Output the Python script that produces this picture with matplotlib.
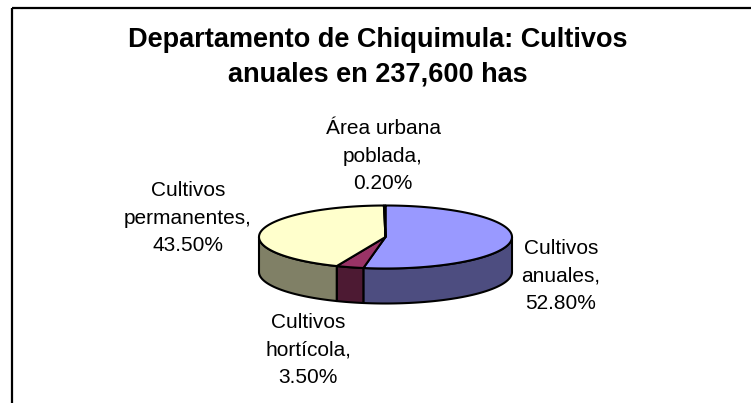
import numpy as np
import matplotlib
matplotlib.use("Agg")
import matplotlib.pyplot as plt
from matplotlib.patches import Polygon, Rectangle

# datos del grafico
categorias = ["Cultivos anuales", "Cultivos hortícola", "Cultivos permanentes", "Área urbana poblada"]
etiquetas = ["Cultivos\nanuales,", "Cultivos\nhortícola,", "Cultivos\npermanentes,", "Área urbana\npoblada,"]
porcentajes = [52.8, 3.5, 43.5, 0.2]
colores_top = ["#9999FF", "#993366", "#FFFFCC", "#CCFFFF"]
colores_lado = ["#4D4D80", "#4D1A33", "#808066", "#668080"]
titulo = "Departamento de Chiquimula: Cultivos\nanuales en 237,600 has"

# geometria (pixeles de la figura)
W, H = 751, 403
cx, cy = 385.5, 237.0
a, b = 126.5, 31.5
prof = 35.0
pos_etiquetas = [(561, 276), (308, 350), (188, 218), (383, 156)]

plt.rcParams['font.family'] = ['Liberation Sans', 'DejaVu Sans']

fig = plt.figure(figsize=(W / 100, H / 100), dpi=100)
ax = fig.add_axes([0, 0, 1, 1])
ax.set_xlim(0, W)
ax.set_ylim(H, 0)
ax.axis('off')


def punto(t, dy=0.0):
    r = np.radians(t)
    return cx + a * np.cos(r), cy - b * np.sin(r) + dy


# angulos: empieza a las 12, sentido horario
total = sum(porcentajes)
inicio = 90.0
angulos = []
for p in porcentajes:
    fin = inicio - p / total * 360.0
    angulos.append((fin, inicio))
    inicio = fin

# lados (solo la mitad frontal)
for (t1, t2), col in zip(angulos, colores_lado):
    for k in (-360, 0, 360):
        lo = max(t1, -180 + k)
        hi = min(t2, 0 + k)
        if hi - lo <= 0:
            continue
        ts = np.linspace(lo, hi, 80)
        arriba = [punto(t) for t in ts]
        abajo = [punto(t, prof) for t in ts[::-1]]
        ax.add_patch(Polygon(arriba + abajo, closed=True, facecolor=col,
                             edgecolor='black', linewidth=1.5, joinstyle='round'))

# caras superiores
for (t1, t2), col in zip(angulos, colores_top):
    ts = np.linspace(t1, t2, max(3, int((t2 - t1) * 2)))
    pts = [(cx, cy)] + [punto(t) for t in ts]
    ax.add_patch(Polygon(pts, closed=True, facecolor=col,
                         edgecolor='black', linewidth=1.5, joinstyle='round'))

# etiquetas
for et, p, (x, y) in zip(etiquetas, porcentajes, pos_etiquetas):
    ax.text(x, y, f"{et}\n{p:.2f}%", ha='center', va='center',
            fontsize=15, linespacing=1.55, color='black')

ax.text(378, 57.5, titulo, ha='center', va='center', fontsize=19.5,
        fontweight='bold', linespacing=1.45)

# marco del area del grafico
ax.add_patch(Rectangle((11.5, 7.5), W, H, fill=False, edgecolor='black',
                       linewidth=1.6, clip_on=False))

fig.savefig("out.png", dpi=100)
